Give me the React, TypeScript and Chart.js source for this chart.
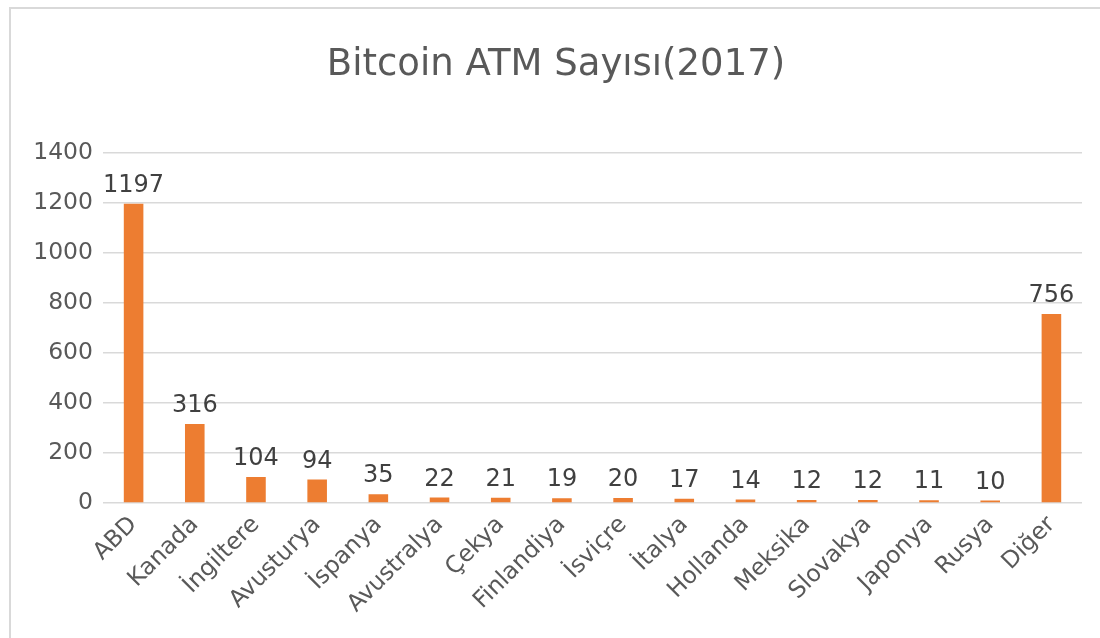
import React, { useEffect, useRef } from "react";
import { Chart, registerables } from "chart.js";

Chart.register(...registerables);

const categories = [
  "ABD", "Kanada", "İngiltere", "Avusturya", "İspanya", "Avustralya", "Çekya",
  "Finlandiya", "İsviçre", "İtalya", "Hollanda", "Meksika", "Slovakya",
  "Japonya", "Rusya", "Diğer",
];
const atmCounts = [1197, 316, 104, 94, 35, 22, 21, 19, 20, 17, 14, 12, 12, 11, 10, 756];
const yTicks = [0, 200, 400, 600, 800, 1000, 1200, 1400];
const titleText = "Bitcoin ATM Sayısı(2017)";

const FONT = "'DejaVu Sans', sans-serif";

// Draws the chart title and the value above each bar
const labelsPlugin = {
  id: "labels",
  afterDatasetsDraw(chart: any) {
    const ctx = chart.ctx;
    ctx.save();
    ctx.fillStyle = "#595959";
    ctx.font = `37px ${FONT}`;
    ctx.textAlign = "center";
    ctx.textBaseline = "middle";
    ctx.fillText(titleText, 556, 65);

    const meta = chart.getDatasetMeta(0);
    ctx.fillStyle = "#404040";
    ctx.font = `24px ${FONT}`;
    ctx.textBaseline = "alphabetic";
    meta.data.forEach((bar: any, i: number) => {
      ctx.fillText(String(atmCounts[i]), bar.x, bar.y - 12);
    });
    ctx.restore();
  },
};

export default function App() {
  const canvasRef = useRef<HTMLCanvasElement | null>(null);

  useEffect(() => {
    const canvas = canvasRef.current;
    if (!canvas) return;
    const chart = new Chart(canvas, {
      type: "bar",
      data: {
        labels: categories,
        datasets: [
          {
            data: atmCounts,
            backgroundColor: "#ED7D31",
            barPercentage: 0.32,
            categoryPercentage: 1,
          },
        ],
      },
      options: {
        animation: false,
        responsive: false,
        maintainAspectRatio: false,
        layout: { padding: { left: 0, right: 18, top: 153, bottom: 0 } },
        plugins: {
          legend: { display: false },
          title: { display: false },
          tooltip: { enabled: false },
        },
        scales: {
          x: {
            grid: { display: false, drawTicks: false },
            border: { display: false },
            ticks: {
              color: "#595959",
              font: { family: FONT, size: 23.5 },
              minRotation: 45,
              maxRotation: 45,
              autoSkip: false,
              padding: 8,
            },
            afterFit(scale: any) {
              scale.height = 135;
            },
          },
          y: {
            min: 0,
            max: 1400,
            afterBuildTicks(scale: any) {
              scale.ticks = yTicks.map((v) => ({ value: v }));
            },
            grid: { color: "#d9d9d9", lineWidth: 1.5, drawTicks: false },
            border: { display: false },
            ticks: {
              color: "#595959",
              font: { family: FONT, size: 23.5 },
              padding: 10,
              callback: (value: any) => String(value),
            },
            afterFit(scale: any) {
              scale.width = 103;
            },
          },
        },
      },
      plugins: [labelsPlugin],
    });
    return () => chart.destroy();
  }, []);

  return (
    <div style={{ position: "absolute", left: 0, top: 0, width: 1100, height: 638, background: "#fff", overflow: "hidden" }}>
      <div
        style={{
          position: "absolute",
          left: 9,
          top: 7,
          width: 1200,
          height: 800,
          borderLeft: "2px solid #d9d9d9",
          borderTop: "2px solid #d9d9d9",
          boxSizing: "border-box",
        }}
      />
      <canvas ref={canvasRef} width={1100} height={638} style={{ position: "absolute", left: 0, top: 0 }} />
    </div>
  );
}
